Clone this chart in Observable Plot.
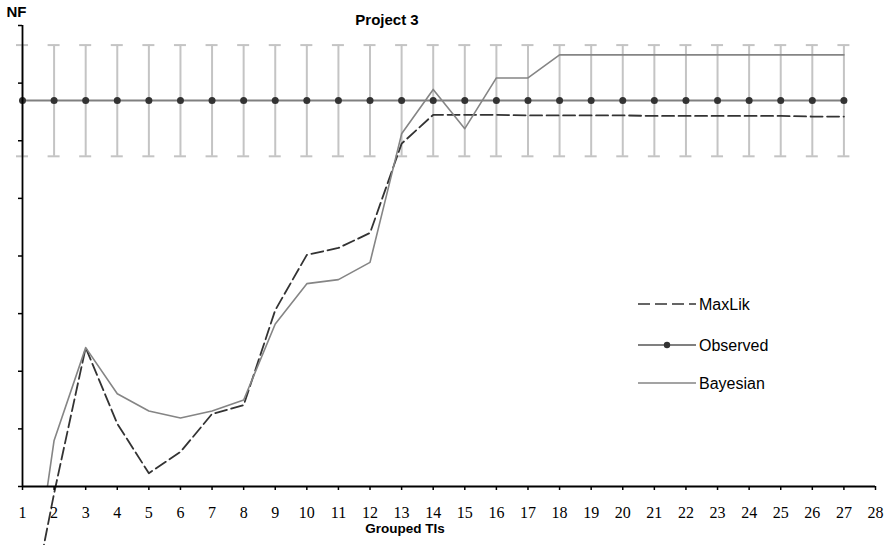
<!DOCTYPE html>
<html>
<head>
<meta charset="utf-8">
<script src="https://cdn.jsdelivr.net/npm/d3@7"></script>
<script src="https://cdn.jsdelivr.net/npm/@observablehq/plot@0.6"></script>
<style>
  html, body { margin: 0; padding: 0; background: #fff; overflow: hidden; }
  #wrap { position: relative; width: 889px; height: 545px; }
  #legend { position: absolute; left: 630px; top: 285px; }
</style>
</head>
<body>
<div id="wrap"></div>
<script>
// ---- data ----
const groups = [1,2,3,4,5,6,7,8,9,10,11,12,13,14,15,16,17,18,19,20,21,22,23,24,25,26,27];
const xTickValues = [1,2,3,4,5,6,7,8,9,10,11,12,13,14,15,16,17,18,19,20,21,22,23,24,25,26,27,28];
const yTickValues = [0,1,2,3,4,5,6,7,8];
const observed = [6.70,6.70,6.70,6.70,6.70,6.70,6.70,6.70,6.70,6.70,6.70,6.70,6.70,6.70,6.70,6.70,6.70,6.70,6.70,6.70,6.70,6.70,6.70,6.70,6.70,6.70,6.70];
const observedLow = [5.73,5.73,5.73,5.73,5.73,5.73,5.73,5.73,5.73,5.73,5.73,5.73,5.73,5.73,5.73,5.73,5.73,5.73,5.73,5.73,5.73,5.73,5.73,5.73,5.73,5.73,5.73];
const observedHigh = [7.66,7.66,7.66,7.66,7.66,7.66,7.66,7.66,7.66,7.66,7.66,7.66,7.66,7.66,7.66,7.66,7.66,7.66,7.66,7.66,7.66,7.66,7.66,7.66,7.66,7.66,7.66];
const maxLik = [-2.9,-0.12,2.41,1.09,0.23,0.60,1.26,1.41,3.06,4.02,4.14,4.40,5.95,6.45,6.45,6.45,6.44,6.44,6.44,6.44,6.43,6.43,6.43,6.43,6.43,6.42,6.42];
const bayesian = [-3.0,0.80,2.41,1.61,1.31,1.19,1.31,1.50,2.82,3.52,3.59,3.89,6.12,6.89,6.21,7.09,7.09,7.49,7.49,7.49,7.49,7.49,7.49,7.49,7.49,7.49,7.49];
const seriesNames = ["MaxLik", "Observed", "Bayesian"];
const chartTitle = "Project 3";
const yTitle = "NF";
const xTitle = "Grouped TIs";

// ---- tables ----
const obsRows = groups.map((g, i) => ({x: g, y: observed[i], lo: observedLow[i], hi: observedHigh[i]}));
const mlRows = groups.map((g, i) => ({x: g, y: maxLik[i]}));
const bayRows = groups.map((g, i) => ({x: g, y: bayesian[i]}));

const sans = "Liberation Sans, Arial, sans-serif";
const serifFamily = "'Liberation Serif', 'DejaVu Serif', serif";

const chart = Plot.plot({
  width: 889,
  height: 545,
  marginLeft: 22,
  marginRight: 14,
  marginTop: 25,
  marginBottom: 59,
  x: {domain: [1, 28]},
  y: {domain: [0, 8]},
  style: {background: "white", overflow: "visible"},
  marks: [
    // error bars
    Plot.ruleX(obsRows, {x: "x", y1: "lo", y2: "hi", stroke: "#c4c4c4", strokeWidth: 2}),
    Plot.ruleY(obsRows, {y: "hi", x1: "x", x2: "x", insetLeft: -6, insetRight: -6, stroke: "#c4c4c4", strokeWidth: 2}),
    Plot.ruleY(obsRows, {y: "lo", x1: "x", x2: "x", insetLeft: -6, insetRight: -6, stroke: "#c4c4c4", strokeWidth: 2}),
    // observed
    Plot.line(obsRows, {x: "x", y: "y", stroke: "#808080", strokeWidth: 2}),
    Plot.dot(obsRows, {x: "x", y: "y", r: 3.5, fill: "#333", stroke: "none"}),
    // MaxLik
    Plot.line(mlRows, {x: "x", y: "y", stroke: "#333", strokeWidth: 1.8, strokeDasharray: "12,4.5"}),
    // Bayesian
    Plot.line(bayRows, {x: "x", y: "y", stroke: "#858585", strokeWidth: 1.6, clip: true}),
    // axes
    Plot.axisX({ticks: xTickValues, tickSize: 4, tickFormat: () => "", label: null, stroke: "#000", strokeWidth: 1.5}),
    Plot.text(xTickValues, {x: d => d, frameAnchor: "bottom", text: d => String(d), dy: 26, lineAnchor: "middle", fontSize: 16, fill: "#000"}),
    Plot.axisY({ticks: yTickValues, tickSize: 4, tickFormat: () => "", label: null, stroke: "#000", strokeWidth: 1.5}),
    Plot.ruleY([0], {stroke: "#000", strokeWidth: 1.8}),
    Plot.ruleX([1], {stroke: "#000", strokeWidth: 1.8}),
    // titles
    Plot.text([yTitle], {frameAnchor: "top-left", text: d => d, dx: -16, dy: -13, textAnchor: "start", lineAnchor: "middle", fontFamily: sans, fontWeight: "bold", fontSize: 15, fill: "#000"}),
    Plot.text([chartTitle], {frameAnchor: "top", text: d => d, dx: -62, dy: -5, lineAnchor: "middle", fontFamily: sans, fontWeight: "bold", fontSize: 15, fill: "#000"}),
    Plot.text([xTitle], {frameAnchor: "bottom", text: d => d, dx: -44, dy: 42, lineAnchor: "middle", fontFamily: sans, fontWeight: "bold", fontSize: 13.5, fill: "#000"})
  ]
});
// serif face for the numeric tick labels
d3.select(chart).selectAll("text")
  .filter(function () { return /^\d+$/.test(this.textContent); })
  .style("font-family", serifFamily)
  .style("font-size", "16px");
document.getElementById("wrap").appendChild(chart);

// ---- legend ----
const legendStyles = [
  {stroke: "#333", dash: "12,5", width: 1.6, dot: false},
  {stroke: "#808080", dash: null, width: 2, dot: true},
  {stroke: "#858585", dash: null, width: 1.6, dot: false}
];
const legendY = [19, 60, 98];
const lg = d3.select("#wrap").append("svg")
  .attr("id", "legend")
  .attr("width", 220).attr("height", 120);
seriesNames.forEach((name, i) => {
  const s = legendStyles[i];
  const g = lg.append("g").attr("transform", `translate(0,${legendY[i]})`);
  g.append("line").attr("x1", 8).attr("x2", 66).attr("y1", 0).attr("y2", 0)
    .attr("stroke", s.stroke).attr("stroke-width", s.width)
    .attr("stroke-dasharray", s.dash);
  if (s.dot) g.append("circle").attr("cx", 37).attr("cy", 0).attr("r", 3.2).attr("fill", "#333");
  g.append("text").attr("x", 69).attr("y", 0).attr("dy", "0.35em")
    .attr("font-family", sans).attr("font-size", 16).attr("fill", "#000").text(name);
});
</script>
</body>
</html>
